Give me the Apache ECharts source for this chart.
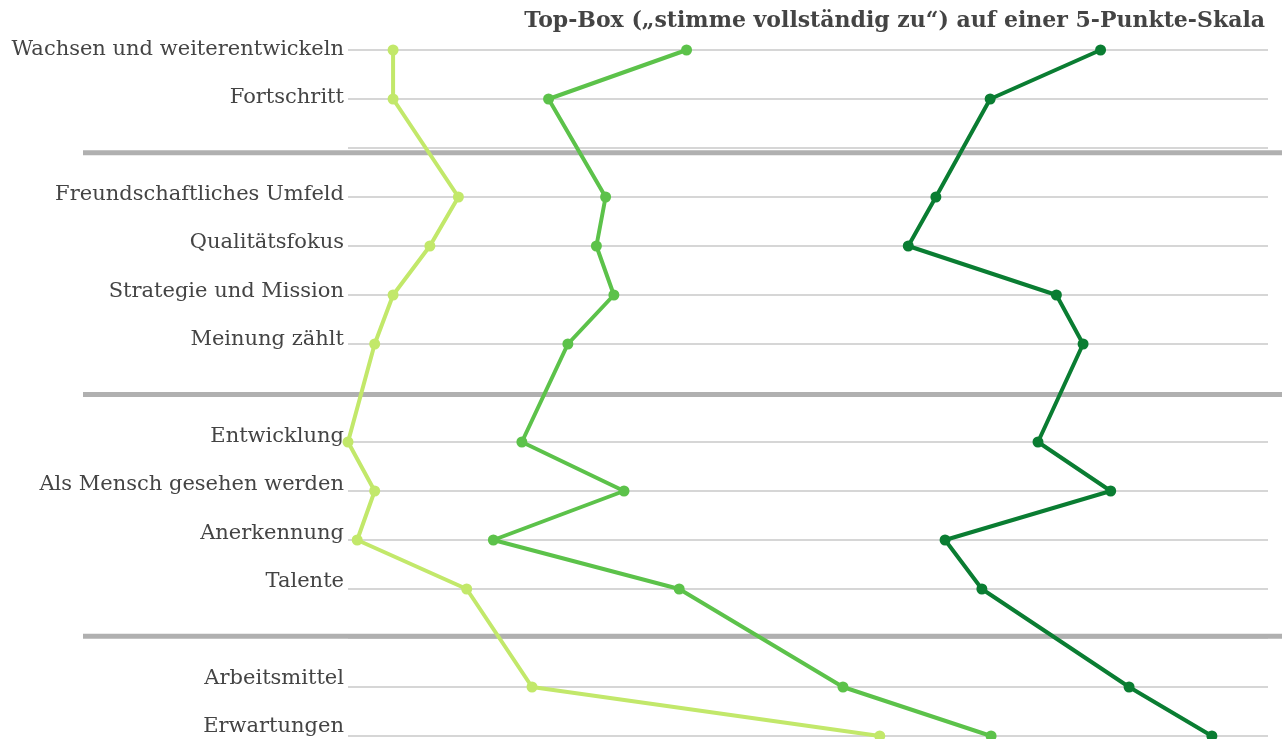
<!DOCTYPE html>
<html>
<head>
<meta charset="utf-8">
<script src="https://cdn.jsdelivr.net/npm/echarts@6/dist/echarts.min.js"></script>
<style>
	html, body { margin: 0; padding: 0; background: #fff; }
	#chart { width: 1282px; height: 739px; }
</style>
</head>
<body>
<div id="chart"></div>
<script>
// Kategorien (leere Einträge = Trennlinien zwischen den Gruppen)
var categories = [
	'Wachsen und weiterentwickeln', 'Fortschritt', '',
	'Freundschaftliches Umfeld', 'Qualitätsfokus', 'Strategie und Mission', 'Meinung zählt', '',
	'Entwicklung', 'Als Mensch gesehen werden', 'Anerkennung', 'Talente', '',
	'Arbeitsmittel', 'Erwartungen'
];

// Top-Box Werte je Linie
var hellgruen = [4.9, 4.9, null, 12.0, 8.9, 4.9, 2.9, null, 0, 2.9, 1.0, 12.9, null, 20.0, 57.8];
var mittelgruen = [36.8, 21.8, null, 28.0, 27.0, 28.9, 23.9, null, 18.9, 30.0, 15.8, 36.0, null, 53.8, 69.9];
var dunkelgruen = [81.8, 69.8, null, 63.9, 60.9, 77.0, 79.9, null, 75.0, 82.9, 64.9, 68.9, null, 84.9, 93.9];

// Trennbalken an den leeren Positionen
var trenner = [null, null, 1, null, null, null, null, 1, null, null, null, null, 1, null, null];

var titel = 'Top-Box („stimme vollständig zu“) auf einer 5-Punkte-Skala';

function linie(name, data, color) {
	return {
		name: name,
		type: 'line',
		xAxisIndex: 0,
		yAxisIndex: 0,
		data: data,
		connectNulls: true,
		symbol: 'circle',
		symbolSize: 11,
		lineStyle: { color: color, width: 4 },
		itemStyle: { color: color },
		z: 5
	};
}

var chart = echarts.init(document.getElementById('chart'));

var option = {
	animation: false,
	title: {
		text: titel,
		right: 12,
		top: 5,
		textStyle: {
			fontFamily: 'DejaVu Serif',
			fontWeight: 'bold',
			fontSize: 22,
			color: '#444'
		}
	},
	grid: [
		// Linien
		{ left: 348, right: 14, top: 50, bottom: 3, outerBoundsMode: 'none', containLabel: false },
		// Trennbalken
		{ left: 83, right: 0, top: 56, bottom: 6, outerBoundsMode: 'none', containLabel: false },
		// Beschriftung
		{ left: 348, right: 14, top: 56, bottom: 6, outerBoundsMode: 'none', containLabel: false }
	],
	xAxis: [
		{ gridIndex: 0, type: 'value', min: 0, max: 100, show: false },
		{ gridIndex: 1, type: 'value', min: 0, max: 1, show: false },
		{ gridIndex: 2, type: 'value', min: 0, max: 1, show: false }
	],
	yAxis: [
		{
			gridIndex: 0,
			type: 'category',
			data: categories,
			inverse: true,
			boundaryGap: false,
			axisLine: { show: false },
			axisTick: { show: false },
			axisLabel: { show: false },
			splitLine: {
				show: true,
				lineStyle: { color: '#d6d6d6', width: 2 }
			}
		},
		{
			gridIndex: 1,
			type: 'category',
			data: categories,
			inverse: true,
			boundaryGap: false,
			show: false
		},
		{
			gridIndex: 2,
			type: 'category',
			data: categories,
			inverse: true,
			boundaryGap: false,
			axisLine: { show: false },
			axisTick: { show: false },
			splitLine: { show: false },
			axisLabel: {
				margin: 4,
				fontFamily: 'DejaVu Serif',
				fontSize: 21,
				color: '#444',
				verticalAlign: 'bottom',
				lineHeight: 13
			}
		}
	],
	series: [
		{
			name: 'Trenner',
			type: 'bar',
			xAxisIndex: 1,
			yAxisIndex: 1,
			data: trenner,
			barWidth: 5,
			itemStyle: { color: '#b0b0b0' },
			z: 1
		},
		linie('Hell', hellgruen, '#c2e86a'),
		linie('Mittel', mittelgruen, '#5cc24a'),
		linie('Dunkel', dunkelgruen, '#0a7d32')
	]
};

chart.setOption(option);
</script>
</body>
</html>
